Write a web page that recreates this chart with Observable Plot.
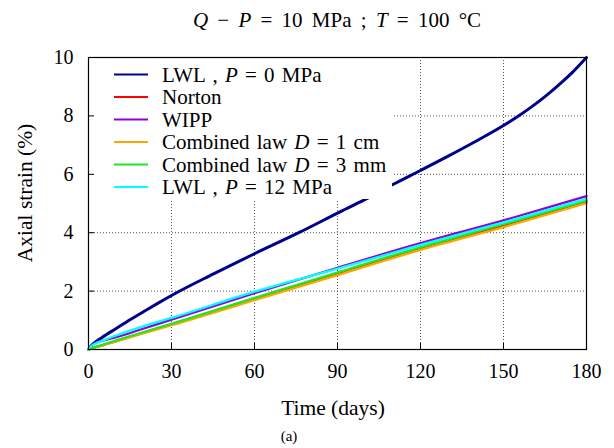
<!DOCTYPE html>
<html>
<head>
<meta charset="utf-8">
<script src="https://cdn.jsdelivr.net/npm/d3@7"></script>
<script src="https://cdn.jsdelivr.net/npm/@observablehq/plot@0.6"></script>
<style>
  html, body { margin: 0; padding: 0; background: #fff; }
  #chart { width: 614px; height: 448px; }
</style>
</head>
<body>
<div id="chart"></div>
<script>
// ---- data ----
const xTicks = [0, 30, 60, 90, 120, 150, 180];
const yTicks = [0, 2, 4, 6, 8, 10];

const seriesLabels = [
  "LWL , *P* = 0 MPa",
  "Norton",
  "WIPP",
  "Combined law *D* = 1 cm",
  "Combined law *D* = 3 mm",
  "LWL , *P* = 12 MPa"
];
const seriesColors = ["#00008b", "#ff0000", "#9400d3", "#ffa500", "#22e622", "#00ffff"];

const timeLwlP0 = [0, 1, 2, 5, 10, 15, 20, 25, 30, 45, 60, 76, 90, 100, 110, 120, 130, 140, 150, 155, 160, 165, 170, 175, 180];
const strainLwlP0 = [0, 0.13, 0.22, 0.42, 0.72, 1.02, 1.3, 1.58, 1.85, 2.58, 3.28, 4.0, 4.67, 5.14, 5.65, 6.13, 6.62, 7.13, 7.67, 7.97, 8.3, 8.66, 9.06, 9.5, 10.0];

const timeOther = [0, 1, 2, 5, 10, 20, 30, 60, 90, 120, 150, 180];
const strainNorton   = [0, 0.03, 0.06, 0.14, 0.29, 0.58, 0.86, 1.72, 2.58, 3.45, 4.25, 5.05];
const strainWipp     = [0, 0.12, 0.2, 0.3, 0.42, 0.72, 1.02, 1.93, 2.8, 3.64, 4.42, 5.25];
const strainComb1cm  = [0, 0.03, 0.06, 0.14, 0.28, 0.56, 0.83, 1.69, 2.55, 3.41, 4.19, 5.01];
const strainComb3mm  = [0, 0.04, 0.07, 0.16, 0.31, 0.6, 0.88, 1.77, 2.64, 3.5, 4.29, 5.1];
const strainLwlP12   = [0, 0.12, 0.18, 0.3, 0.48, 0.8, 1.08, 1.98, 2.77, 3.58, 4.35, 5.16];

const seriesTimes = [timeLwlP0, timeOther, timeOther, timeOther, timeOther, timeOther];
const seriesValues = [strainLwlP0, strainNorton, strainWipp, strainComb1cm, strainComb3mm, strainLwlP12];
const seriesWidths = [3, 2.3, 2.3, 2.3, 2.3, 2.3];

const titleText = "*Q* − *P* = 10 MPa ; *T* = 100 °C";
const xLabel = "Time (days)";
const yLabel = "Axial strain (%)";
const captionText = "(a)";

// ---- layout ----
const W = 614, H = 448;
const mL = 88, mR = 28, mT = 57, mB = 99;
const plotW = W - mL - mR, plotH = H - mT - mB;
const FONT = "'Liberation Serif', 'Times New Roman', Times, serif";
const FS = 20;

function richText(sel, str) {
  str.split("*").forEach((part, i) => {
    if (!part) return;
    const t = sel.append("tspan").text(part);
    if (i % 2 === 1) t.attr("font-style", "italic");
  });
}

const lineMarks = seriesValues.map((vals, s) => {
  const rows = vals.map((v, i) => ({t: seriesTimes[s][i], v}));
  return Plot.line(rows, {x: "t", y: "v", stroke: seriesColors[s], strokeWidth: seriesWidths[s], curve: "monotone-x"});
});

// legend (opaque key box in the top-left of the frame)
function legendMark(index, scales, values, dim) {
  const g = d3.create("svg:g");
  const x0 = dim.marginLeft, y0 = dim.marginTop;
  g.append("rect").attr("x", x0).attr("y", y0).attr("width", 304).attr("height", 142).attr("fill", "white");
  seriesLabels.forEach((lab, i) => {
    const yy = y0 + 17.5 + i * 22.5;
    g.append("line").attr("x1", x0 + 26).attr("x2", x0 + 60).attr("y1", yy).attr("y2", yy)
      .attr("stroke", seriesColors[i]).attr("stroke-width", 2.2);
    const t = g.append("text").attr("x", x0 + 74).attr("y", yy + 7)
      .attr("text-anchor", "start").attr("word-spacing", 2)
      .attr("font-family", FONT).attr("font-size", 21).attr("fill", "black");
    richText(t, lab);
  });
  return g.node();
}

function textsMark(index, scales, values, dim) {
  const g = d3.create("svg:g").attr("font-family", FONT).attr("fill", "black");
  const cx = dim.marginLeft + (dim.width - dim.marginLeft - dim.marginRight) / 2;
  const t = g.append("text").attr("x", cx).attr("y", 27).attr("text-anchor", "middle")
    .attr("font-size", 21).attr("word-spacing", 4);
  richText(t, titleText);
  g.append("text").attr("x", cx - 4).attr("y", dim.height - dim.marginBottom + 66).attr("text-anchor", "middle")
    .attr("font-size", 21.5).text(xLabel);
  g.append("text").attr("transform", `translate(32, ${dim.marginTop + 136}) rotate(-90)`).attr("text-anchor", "middle")
    .attr("font-size", 21.5).text(yLabel);
  g.append("text").attr("x", 289).attr("y", dim.height - 7).attr("text-anchor", "middle")
    .attr("font-size", 15).text(captionText);
  return g.node();
}

const chart = Plot.plot({
  width: W, height: H,
  marginLeft: mL, marginRight: mR, marginTop: mT, marginBottom: mB,
  style: {fontFamily: FONT, fontSize: FS + "px", background: "white", color: "black", overflow: "visible"},
  x: {domain: [0, 180], axis: null},
  y: {domain: [0, 10], axis: null},
  marks: [
    Plot.gridX(xTicks.slice(1, -1), {stroke: "#555", strokeOpacity: 1, strokeDasharray: "1,2"}),
    Plot.gridY(yTicks.slice(1, -1), {stroke: "#555", strokeOpacity: 1, strokeDasharray: "1,2"}),
    ...lineMarks,
    legendMark,
    Plot.frame({stroke: "black", strokeWidth: 1.2}),
    Plot.tickX(xTicks, {x: d => d, stroke: "black", insetTop: plotH - 6}),
    Plot.tickY(yTicks, {y: d => d, stroke: "black", insetRight: plotW - 6}),
    Plot.axisX(xTicks, {anchor: "bottom", tickSize: 0, tickPadding: 14, label: null, fontSize: FS}),
    Plot.axisY(yTicks, {anchor: "left", tickSize: 0, tickPadding: 15, label: null, fontSize: FS}),
    textsMark
  ]
});
document.getElementById("chart").appendChild(chart);
</script>
</body>
</html>
